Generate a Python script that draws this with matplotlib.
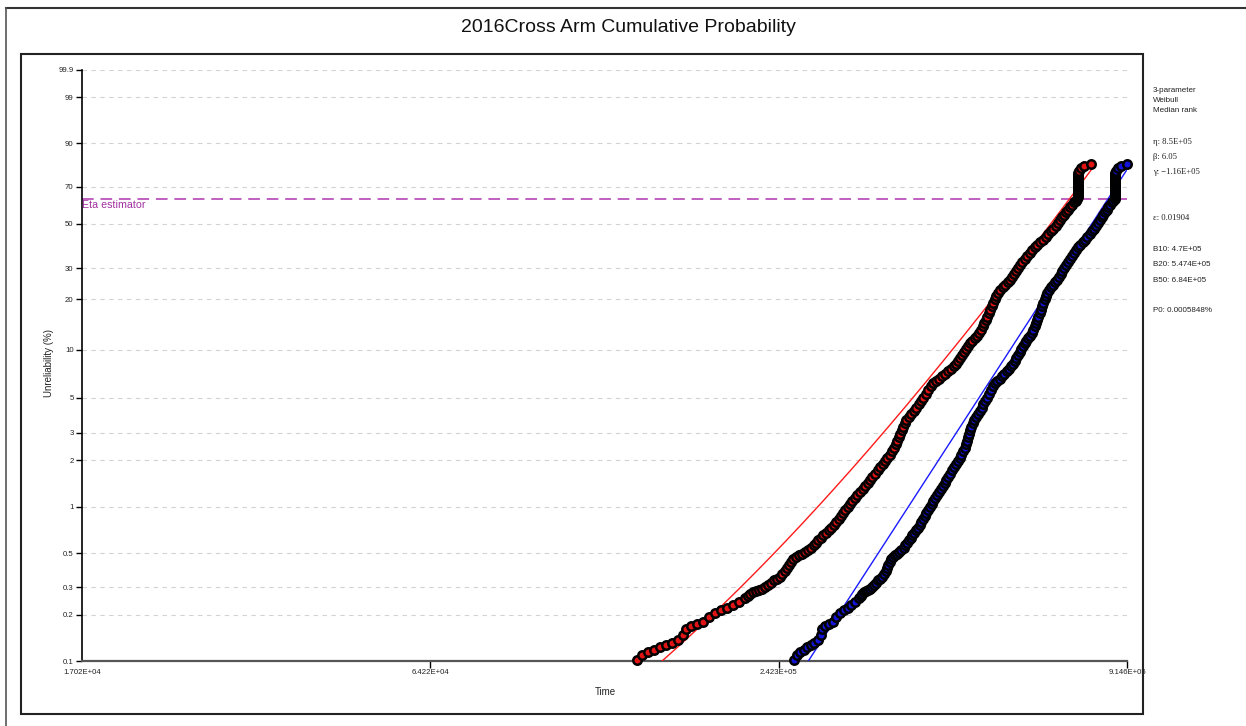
import numpy as np
import matplotlib
matplotlib.use("Agg")
import matplotlib.pyplot as plt
from matplotlib.lines import Line2D
from matplotlib.patches import Rectangle
from matplotlib.ticker import FixedLocator, FixedFormatter, NullLocator

plt.rcParams['font.family'] = ['Liberation Sans', 'DejaVu Sans']

# ---- data -------------------------------------------------------------
title = "2016Cross Arm Cumulative Probability"

# observed failure times (thousand hours) and their median-rank unreliability (%)
fail_time_k = [
    141.2, 144.0, 147.3, 150.7, 154.2, 157.8, 161.4, 165.2, 168.3, 170.3,
    173.5, 177.5, 181.7, 185.9, 190.2, 194.5, 199.1, 203.6, 208.3, 213.2,
    215.3, 217.3, 219.8, 222.3, 224.9, 227.4, 230.1, 232.7, 235.4, 238.1,
    240.9, 243.6, 245.9, 248.3, 250.2, 252.1, 254.1, 256.0, 259.0, 261.9,
    264.9, 268.0, 271.1, 274.1, 276.8, 279.4, 282.1, 284.8, 287.5, 290.3,
    293.1, 295.9, 298.8, 301.6, 304.5, 307.4, 309.7, 312.1, 315.1, 318.1,
    321.1, 324.2, 327.3, 330.5, 333.7, 336.9, 340.1, 343.3, 346.6, 349.9,
    353.3, 356.7, 360.1, 363.6, 367.0, 370.6, 373.5, 376.3, 378.5, 380.6,
    382.8, 385.0, 387.2, 389.4, 391.7, 393.9, 397.7, 401.4, 405.3, 409.2,
    413.1, 417.1, 420.3, 424.3, 428.4, 432.4, 436.6, 441.6, 446.7, 451.9,
    457.1, 462.3, 467.6, 472.1, 476.6, 480.2, 483.9, 487.6, 491.4, 495.1,
    498.9, 502.8, 506.7, 511.5, 516.4, 520.3, 524.3, 527.3, 530.3, 533.4,
    536.5, 539.5, 542.6, 545.7, 548.8, 552.0, 555.2, 559.4, 563.7, 569.1,
    574.6, 580.0, 585.6, 590.1, 594.6, 599.2, 603.8, 608.4, 613.1, 618.9,
    624.9, 630.8, 636.9, 642.9, 649.1, 656.6, 664.2, 670.5, 677.0, 683.4,
    690.0, 696.6, 703.3, 708.6, 714.1, 719.5, 725.0, 730.6, 736.2, 741.9,
    747.5, 751.8, 756.2, 759.0, 759.0, 759.0, 759.0, 759.0, 759.0, 759.0,
    759.0, 759.0, 759.0, 759.0, 759.0, 759.0, 761.9, 767.7, 776.6, 798.6,
]
unreliability_pct = [
    0.101, 0.109, 0.114, 0.118, 0.123, 0.127, 0.131, 0.137, 0.148, 0.161,
    0.169, 0.174, 0.179, 0.193, 0.205, 0.214, 0.221, 0.231, 0.241, 0.256,
    0.264, 0.272, 0.279, 0.285, 0.289, 0.293, 0.302, 0.311, 0.323, 0.336,
    0.343, 0.351, 0.367, 0.384, 0.402, 0.420, 0.440, 0.459, 0.473, 0.487,
    0.498, 0.510, 0.525, 0.541, 0.562, 0.583, 0.605, 0.628, 0.652, 0.677,
    0.703, 0.729, 0.763, 0.797, 0.834, 0.872, 0.912, 0.954, 0.997, 1.043,
    1.090, 1.140, 1.192, 1.247, 1.304, 1.363, 1.425, 1.490, 1.558, 1.629,
    1.716, 1.807, 1.889, 1.975, 2.065, 2.159, 2.272, 2.394, 2.521, 2.655,
    2.795, 2.944, 3.099, 3.263, 3.435, 3.618, 3.781, 3.950, 4.128, 4.313,
    4.539, 4.778, 4.992, 5.290, 5.608, 5.900, 6.207, 6.391, 6.578, 6.820,
    7.070, 7.327, 7.598, 7.876, 8.164, 8.523, 8.896, 9.284, 9.689, 10.11,
    10.55, 10.93, 11.32, 11.73, 12.15, 12.66, 13.21, 13.87, 14.55, 15.17,
    15.81, 16.58, 17.39, 18.24, 19.12, 20.04, 20.99, 21.84, 22.72, 23.47,
    24.25, 25.05, 25.87, 26.88, 27.93, 29.00, 30.11, 31.25, 32.41, 33.62,
    34.86, 36.13, 37.43, 38.54, 39.67, 40.82, 41.99, 43.43, 44.88, 46.11,
    47.28, 48.81, 50.36, 51.93, 53.52, 54.86, 56.21, 57.57, 58.93, 60.29,
    61.67, 62.50, 63.32, 64.42, 65.52, 66.62, 67.71, 68.80, 69.88, 70.96,
    72.03, 73.09, 74.14, 75.18, 76.21, 77.23, 78.23, 79.70, 80.66, 81.60,
]

# 3-parameter Weibull fit
eta = 8.5e5
beta = 6.05
gamma = -1.16e5

x_ticks = [1.702e4, 6.422e4, 2.423e5, 9.146e5]
x_tick_labels = ["1.702E+04", "6.422E+04", "2.423E+05", "9.146E+05"]
y_ticks = [0.1, 0.2, 0.3, 0.5, 1, 2, 3, 5, 10, 20, 30, 50, 70, 90, 99, 99.9]
y_tick_labels = ["0.1", "0.2", "0.3", "0.5", "1", "2", "3", "5", "10", "20",
                 "30", "50", "70", "90", "99", "99.9"]

info_sans_top = ["3-parameter", "Weibull", "Median rank"]
info_params = ["\u03b7: 8.5E+05", "\u03b2: 6.05", "\u03b3: \u22121.16E+05"]
info_eps = "\u03b5: 0.01904"
info_b = ["B10: 4.7E+05", "B20: 5.474E+05", "B50: 6.84E+05"]
info_p0 = "P0: 0.0005848%"

# ---- figure -------------------------------------------------------------
W, H = 1246, 726
fig = plt.figure(figsize=(W / 100, H / 100), dpi=100)
fig.patch.set_facecolor("white")


def fx(px):
    return px / W


def fy(py):
    return 1 - py / H


ax = fig.add_axes([fx(82), fy(661), fx(1127) - fx(82), fy(70) - fy(661)])


def weib_fwd(p):
    p = np.clip(np.asarray(p, dtype=float), 1e-9, 100 - 1e-9)
    return np.log(-np.log1p(-p / 100.0))


def weib_inv(w):
    return 100.0 * (-np.expm1(-np.exp(np.asarray(w, dtype=float))))


ax.set_xscale("log")
ax.set_yscale("function", functions=(weib_fwd, weib_inv))
ax.set_xlim(x_ticks[0], x_ticks[-1])
ax.set_ylim(0.1, 99.9)

# fitted lines: adjusted-time (t - gamma) straight line and raw-time curve
u = np.geomspace(2.3e5, x_ticks[-1], 400)
fit_pct = 100.0 * (1 - np.exp(-(u / eta) ** beta))
ax.plot(u + gamma, fit_pct, color="#ff1a1a", lw=1.0, zorder=3)
ax.plot(u, fit_pct, color="#1a1aff", lw=1.0, zorder=3)

t_raw = np.array(fail_time_k) * 1000.0
t_adj = t_raw - gamma
ax.scatter(t_raw, unreliability_pct, s=37, c="#e01414", edgecolors="black",
           linewidths=1.8, zorder=5, clip_on=False)
ax.scatter(t_adj, unreliability_pct, s=37, c="#1414d8", edgecolors="black",
           linewidths=1.8, zorder=5, clip_on=False)

# eta estimator (63.2 %)
eta_pct = 100.0 * (1 - np.exp(-1))
ax.axhline(eta_pct, color="#c060c0", lw=1.4, ls=(0, (6, 3.5)), zorder=2)
ax.text(x_ticks[0], 60.0, "Eta estimator", color="#a030a0", fontsize=7.7,
        ha="left", va="center", zorder=6)

# grid
for v in y_ticks[1:]:
    ax.axhline(v, color="#d2d2d2", lw=0.8, ls=(0, (4, 4)), zorder=1)

# axes styling
for side in ("top", "right"):
    ax.spines[side].set_visible(False)
ax.spines["left"].set_color("black")
ax.spines["left"].set_linewidth(1.2)
ax.spines["bottom"].set_color("#555555")
ax.spines["bottom"].set_linewidth(1.6)

ax.xaxis.set_major_locator(FixedLocator(x_ticks))
ax.xaxis.set_major_formatter(FixedFormatter(x_tick_labels))
ax.xaxis.set_minor_locator(NullLocator())
ax.yaxis.set_major_locator(FixedLocator(y_ticks))
ax.yaxis.set_major_formatter(FixedFormatter(y_tick_labels))
ax.yaxis.set_minor_locator(NullLocator())
ax.tick_params(axis="x", direction="out", length=5, width=1.0, pad=1.0,
               labelsize=5.6, colors="black", labelcolor="#222222")
ax.tick_params(axis="y", direction="out", length=4.5, width=1.0, pad=1.5,
               labelsize=5.6, colors="black", labelcolor="#222222")
ax.xaxis.get_major_ticks()[0].tick1line.set_visible(False)

fig.text(fx(49), fy(363), "Unreliability (%)", rotation=90, fontsize=7,
         ha="center", va="center", color="#222222")
fig.text(fx(605), fy(692), "Time", fontsize=7, ha="center", va="center",
         color="#222222")
fig.text(fx(628), fy(28), title, fontsize=14, ha="center", va="center",
         color="#111111")

# side info panel
sans_y = [91, 101, 111]
for txt, yy in zip(info_sans_top, sans_y):
    fig.text(fx(1153), fy(yy), txt, fontsize=5.8, ha="left", va="center",
             color="#222222")
serif = ["Liberation Serif", "DejaVu Serif"]
for txt, yy in zip(info_params, [142, 157, 172]):
    fig.text(fx(1153), fy(yy), txt, fontsize=6.2, ha="left", va="center",
             color="#222222", family=serif)
fig.text(fx(1153), fy(218), info_eps, fontsize=6.2, ha="left", va="center",
         color="#222222", family=serif)
for txt, yy in zip(info_b, [249, 264, 280]):
    fig.text(fx(1153), fy(yy), txt, fontsize=5.8, ha="left", va="center",
             color="#222222")
fig.text(fx(1153), fy(310), info_p0, fontsize=5.8, ha="left", va="center",
         color="#222222")

# frames
fig.add_artist(Line2D([fx(6), 1.0], [fy(8), fy(8)], transform=fig.transFigure,
                      color="#333333", lw=1.5))
fig.add_artist(Line2D([fx(6), fx(6)], [fy(8), 0.0], transform=fig.transFigure,
                      color="#555555", lw=1.2))
fig.add_artist(Rectangle((fx(21), fy(714)), fx(1143) - fx(21), fy(54) - fy(714),
                         transform=fig.transFigure, fill=False,
                         edgecolor="#222222", lw=1.5))

fig.savefig("out.png", dpi=100)
